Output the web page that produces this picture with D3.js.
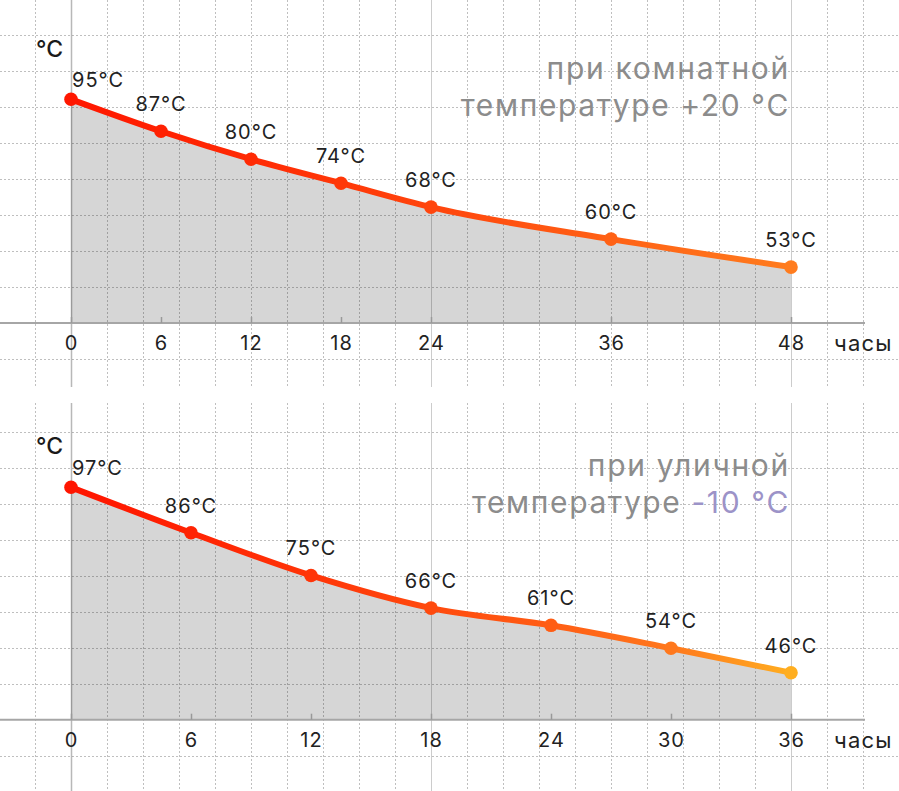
<!DOCTYPE html>
<html>
<head>
<meta charset="utf-8">
<script src="https://cdn.jsdelivr.net/npm/d3@7/dist/d3.min.js"></script>
<style>
  html, body { margin: 0; padding: 0; background: #fff; }
  svg { display: block; font-family: Inter, "Noto Sans", sans-serif; }
</style>
</head>
<body>
<svg id="chart" width="899" height="791"></svg>
<script>
// ---- data ----
const hoursRoom   = [0, 6, 12, 18, 24, 36, 48];
const tempsRoom   = [95, 87, 80, 74, 68, 60, 53];
const ticksRoom   = [0, 6, 12, 18, 24, 36, 48];

const hoursStreet = [0, 6, 12, 18, 24, 30, 36];
const tempsStreet = [97, 86, 75, 66, 61, 54, 46];
const ticksStreet = [0, 6, 12, 18, 24, 30, 36];

const legendRoomLine1   = "при комнатной";
const legendRoomLine2   = ["температуре ", "+20 °C"];
const legendStreetLine1 = "при уличной";
const legendStreetLine2 = ["температуре ", "-10 °C"];

const unitLabel = "°C";
const xAxisLabel = "часы";

// ---- layout ----
const W = 899, H = 791;
const svg = d3.select("#chart");
const defs = svg.append("defs");

const colorOfTemp = d3.scaleLinear()
  .domain([97, 80, 66, 53, 46])
  .range(["#ff1500", "#ff2a04", "#ff4a0e", "#ff7c1e", "#ffae20"])
  .clamp(true);

const panels = [
  { hours: hoursRoom, temps: tempsRoom, ticks: ticksRoom,
    top: 0, bottom: 387, axisY: 323,
    xDomain: [0, 48],
    y: d3.scaleLinear().domain([39, 95]).range([323, 99.3]),
    l1: legendRoomLine1, l2: legendRoomLine2, accent: "#8c8c8c" },
  { hours: hoursStreet, temps: tempsStreet, ticks: ticksStreet,
    top: 403, bottom: 791, axisY: 719.7,
    xDomain: [0, 36],
    y: d3.scalePow().exponent(1.5).domain([28.1, 97]).range([719.7, 487.3]),
    l1: legendStreetLine1, l2: legendStreetLine2, accent: "#9c93c8" }
];

panels.forEach((p, i) => {
  const x = d3.scaleLinear().domain(p.xDomain).range([71, 791]);
  const y = p.y;
  const data = p.hours.map((h, k) => ({ h, t: p.temps[k] }));

  const clipId = "clip" + i;
  defs.append("clipPath").attr("id", clipId)
    .append("rect").attr("x", 0).attr("y", p.top)
    .attr("width", W).attr("height", p.bottom - p.top);

  const g = svg.append("g").attr("clip-path", `url(#${clipId})`);

  // area
  const area = d3.area()
    .x(d => x(d.h)).y0(p.axisY).y1(d => y(d.t))
    .curve(d3.curveMonotoneX);
  g.append("path").datum(data).attr("d", area).attr("fill", "#d6d6d6");

  // grid (graph-paper, 36px cells anchored at origin)
  const cell = 36;
  const vx = d3.range(-3, 25).map(k => 71 + k * cell).filter(v => v >= -2 && v <= W + 2);
  const hy = d3.range(-12, 12).map(k => p.axisY + k * cell).filter(v => v >= p.top - 2 && v <= p.bottom + 2);
  const majors = [71, 431, 791];

  g.selectAll(".vgrid").data(vx.filter(v => !majors.includes(v))).join("line")
    .attr("x1", d => d + 0.5).attr("x2", d => d + 0.5)
    .attr("y1", p.top).attr("y2", p.bottom)
    .attr("stroke", "rgba(0,0,0,0.25)").attr("stroke-width", 1)
    .attr("stroke-dasharray", "2,2");
  g.selectAll(".hgrid").data(hy.filter(v => Math.abs(v - p.axisY) > 1)).join("line")
    .attr("x1", 0).attr("x2", W)
    .attr("y1", d => Math.round(d) + 0.5).attr("y2", d => Math.round(d) + 0.5)
    .attr("stroke", "rgba(0,0,0,0.25)").attr("stroke-width", 1)
    .attr("stroke-dasharray", "2,2");
  g.selectAll(".major").data(majors).join("line")
    .attr("x1", d => d + 0.5).attr("x2", d => d + 0.5)
    .attr("y1", p.top).attr("y2", p.bottom)
    .attr("stroke", d => d === 71 ? "rgba(0,0,0,0.28)" : "rgba(0,0,0,0.2)")
    .attr("stroke-width", d => d === 71 ? 1.5 : 1);

  // x axis
  g.append("line").attr("x1", 0).attr("x2", 865)
    .attr("y1", p.axisY).attr("y2", p.axisY)
    .attr("stroke", "#a6a6a6").attr("stroke-width", 2);

  const axis = d3.axisBottom(x).tickValues(p.ticks).tickFormat(d3.format("d"))
    .tickSizeInner(-6).tickSizeOuter(0).tickPadding(13);
  const ag = g.append("g").attr("transform", `translate(0,${p.axisY})`).call(axis);
  ag.select(".domain").remove();
  ag.selectAll(".tick line").attr("stroke", "#999").attr("stroke-width", 1.5);
  ag.selectAll(".tick text")
    .attr("font-family", "Inter, 'Noto Sans', sans-serif")
    .attr("font-size", 20).attr("fill", "#222").attr("letter-spacing", 1);

  g.append("text").attr("x", 834).attr("y", p.axisY + 28)
    .attr("font-size", 22).attr("fill", "#222").attr("letter-spacing", 1.2)
    .text(xAxisLabel);

  // line with gradient
  const gradId = "grad" + i;
  const x0 = x(p.hours[0]), x1 = x(p.hours[p.hours.length - 1]);
  const grad = defs.append("linearGradient").attr("id", gradId)
    .attr("gradientUnits", "userSpaceOnUse")
    .attr("x1", x0).attr("x2", x1).attr("y1", 0).attr("y2", 0);
  grad.selectAll("stop").data(data).join("stop")
    .attr("offset", d => (x(d.h) - x0) / (x1 - x0))
    .attr("stop-color", d => colorOfTemp(d.t));

  const line = d3.line().x(d => x(d.h)).y(d => y(d.t)).curve(d3.curveMonotoneX);
  g.append("path").datum(data).attr("d", line)
    .attr("fill", "none").attr("stroke", `url(#${gradId})`)
    .attr("stroke-width", 6).attr("stroke-linecap", "round");

  g.selectAll(".pt").data(data).join("circle")
    .attr("cx", d => x(d.h)).attr("cy", d => y(d.t)).attr("r", 6.8)
    .attr("fill", d => colorOfTemp(d.t));

  // value labels
  g.selectAll(".lbl").data(data).join("text")
    .attr("x", (d, k) => k === 0 ? x(d.h) + 1 : x(d.h))
    .attr("y", (d, k) => k === 0 ? y(d.t) - 12 : y(d.t) - 20)
    .attr("text-anchor", (d, k) => k === 0 ? "start" : "middle")
    .attr("font-size", 20).attr("fill", "#222").attr("letter-spacing", 1)
    .text(d => d.t + "°C");

  // unit label
  g.append("text").attr("x", 36).attr("y", p.axisY - 266)
    .attr("font-size", 23).attr("fill", "#1a1a1a").attr("font-weight", 500)
    .text(unitLabel);

  // legend
  g.append("text").attr("x", 790).attr("y", p.axisY - 244)
    .attr("text-anchor", "end").attr("font-size", 30).attr("fill", "#8c8c8c")
    .attr("letter-spacing", 1.7)
    .text(p.l1);
  const t2 = g.append("text").attr("x", 790).attr("y", p.axisY - 207)
    .attr("text-anchor", "end").attr("font-size", 30).attr("fill", "#8c8c8c")
    .attr("letter-spacing", 1.6);
  t2.append("tspan").text(p.l2[0]);
  t2.append("tspan").attr("fill", p.accent).text(p.l2[1]);
});
</script>
</body>
</html>
